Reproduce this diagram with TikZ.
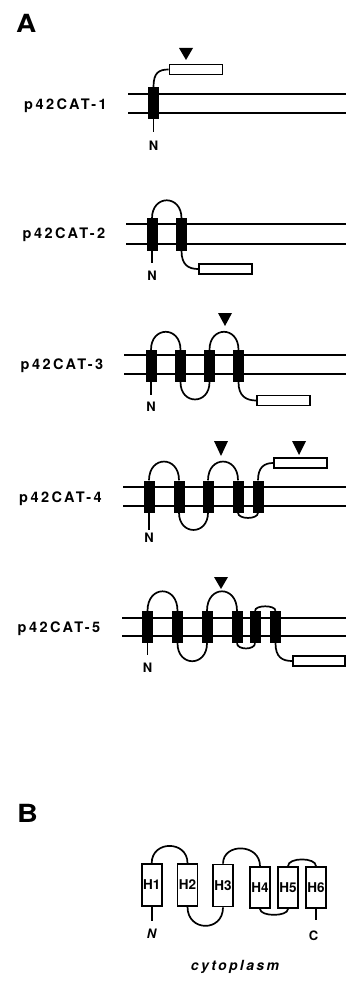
\documentclass[tikz,border=0pt]{standalone}
\usepackage{fontspec}
\setmainfont{TeX Gyre Heros}
\newfontfamily\spacedfont{TeX Gyre Heros}[LetterSpace=17]

\tikzset{
  membrane/.style={line width=1.8pt},
  tm/.style={rectangle, fill=black, minimum width=11pt, minimum height=32pt, inner sep=0pt},
  tag/.style={rectangle, draw, fill=white, line width=1.6pt, minimum width=53pt, minimum height=10pt, inner sep=0pt},
  chain/.style={line width=1.7pt},
  helix/.style={rectangle, draw, fill=white, line width=1.7pt, minimum width=20pt, minimum height=42pt, inner sep=0pt, font=\fontsize{13.5}{15}\selectfont\bfseries},
  construct/.style={anchor=base west, inner sep=0pt, font=\spacedfont\fontsize{14.5}{16}\selectfont\bfseries},
  term/.style={inner sep=0pt, font=\fontsize{13}{15}\selectfont\bfseries},
  panel/.style={anchor=base west, inner sep=0pt, font=\fontsize{25}{30}\selectfont\bfseries},
}
% downward-pointing cleavage marker: centre x, top y, bottom y
\newcommand\cutmark[3]{\fill (#1-7,#2) -- (#1+7,#2) -- (#1,#3) -- cycle;}

\begin{document}
\begin{tikzpicture}[x=1pt,y=-1pt]
\fill[white] (0,0) rectangle (346,984);
\useasboundingbox (0,0) rectangle (346,984);

\node[panel] (labA) at (16,33) {\scalebox{1.12}[1]{A}};

% ---------------- p42CAT-1
\draw[membrane] (128,94) -- (346,94) (128,113) -- (346,113);
\node[construct] (l1) at (24,110) {p42CAT-1};
\node[tm] (a1) at (153.5,103) {};
\node[tag] (t1) at (196,69.5) {};
\cutmark{186}{48}{60}
\draw[chain] (a1.north) .. controls +(0,-14) and +(-10,0) .. (t1.west);
\coordinate (n1e) at (153.5,132);
\draw[chain] (a1.south) -- (n1e);
\node[term] (n1) at (153.5,146) {N};

% ---------------- p42CAT-2
\draw[membrane] (126,224) -- (346,224) (126,244) -- (346,244);
\node[construct] (l2) at (22.5,239) {p42CAT-2};
\node[tm] (b1) at (152,234.5) {};
\node[tm] (b2) at (181.5,234.5) {};
\node[tag] (t2) at (225.5,269) {};
\draw[chain] (b1.north) .. controls +(0,-24) and +(0,-24) .. (b2.north);
\draw[chain] (b2.south) .. controls +(0,14) and +(-10,0) .. (t2.west);
\coordinate (n2e) at (152,263);
\draw[chain] (b1.south) -- (n2e);
\node[term] (n2) at (152,276) {N};

% ---------------- p42CAT-3
\draw[membrane] (124,355) -- (346,355) (124,374) -- (346,374);
\node[construct] (l3) at (20.5,369) {p42CAT-3};
\node[tm] (c1) at (151,366) {};
\node[tm] (c2) at (180.5,366) {};
\node[tm] (c3) at (209.5,366) {};
\node[tm] (c4) at (238.5,366) {};
\node[tag] (t3) at (283.5,400.5) {};
\cutmark{225}{313}{326}
\draw[chain] (c1.north) .. controls +(0,-24) and +(0,-24) .. (c2.north);
\draw[chain] (c2.south) .. controls +(0,23) and +(0,23) .. (c3.south);
\draw[chain] (c3.north) .. controls +(0,-24) and +(0,-24) .. (c4.north);
\draw[chain] (c4.south) .. controls +(0,14) and +(-10,0) .. (t3.west);
\coordinate (n3e) at (151,395);
\draw[chain] (c1.south) -- (n3e);
\node[term] (n3) at (151,407) {N};

% ---------------- p42CAT-4
\draw[membrane] (123,487) -- (346,487) (123,506) -- (346,506);
\node[construct] (l4) at (19,502) {p42CAT-4};
\node[tm] (d1) at (149,496.5) {};
\node[tm] (d2) at (179,496.5) {};
\node[tm] (d3) at (208,496.5) {};
\node[tm] (d4) at (238,496.5) {};
\node[tm] (d5) at (258,496.5) {};
\node[tag] (t4) at (300.5,463) {};
\cutmark{221}{441}{456}
\cutmark{299}{441}{455}
\draw[chain] (d1.north) .. controls +(0,-25) and +(0,-25) .. (d2.north);
\draw[chain] (d2.south) .. controls +(0,23) and +(0,23) .. (d3.south);
\draw[chain] (d3.north) .. controls +(0,-25) and +(0,-25) .. (d4.north);
\draw[chain] (d4.south) .. controls +(0,7) and +(0,7) .. (d5.south);
\draw[chain] (d5.north) .. controls +(0,-13) and +(-9,0) .. (t4.west);
\coordinate (n4e) at (149,530);
\draw[chain] (d1.south) -- (n4e);
\node[term] (n4) at (149,538) {N};

% ---------------- p42CAT-5
\draw[membrane] (122,618) -- (346,618) (122,636) -- (346,636);
\node[construct] (l5) at (17.5,632) {p42CAT-5};
\node[tm] (e1) at (147.5,627) {};
\node[tm] (e2) at (177.5,627) {};
\node[tm] (e3) at (207,627) {};
\node[tm] (e4) at (237,627) {};
\node[tm] (e5) at (255,627) {};
\node[tm] (e6) at (275.5,627) {};
\node[tag, minimum width=52pt] (t5) at (319,661) {};
\cutmark{221}{577}{589}
\draw[chain] (e1.north) .. controls +(0,-26) and +(0,-26) .. (e2.north);
\draw[chain] (e2.south) .. controls +(0,24) and +(0,24) .. (e3.south);
\draw[chain] (e3.north) .. controls +(0,-26) and +(0,-26) .. (e4.north);
\draw[chain] (e4.south) .. controls +(0,7) and +(0,7) .. (e5.south);
\draw[chain] (e5.north) .. controls +(0,-6) and +(0,-6) .. (e6.north);
\draw[chain] (e6.south) .. controls +(0,14) and +(-10,0) .. (t5.west);
\coordinate (n5e) at (147.5,655);
\draw[chain] (e1.south) -- (n5e);
\node[term] (n5) at (147.5,668) {N};

% ---------------- B: helix topology
\node[panel] (labB) at (17,822) {\scalebox{1.15}[1]{B}};
\node[helix] (h1) at (151.7,885) {H1};
\node[helix] (h2) at (187.5,885) {H2};
\node[helix] (h3) at (223,885.5) {H3};
\node[helix, minimum height=41pt] (h4) at (260,887.5) {H4};
\node[helix, minimum height=41pt] (h5) at (288,887.5) {H5};
\node[helix, minimum height=41pt] (h6) at (316,887.5) {H6};
\draw[chain] (h1.north) .. controls +(0,-23) and +(0,-23) .. (h2.north);
\draw[chain] (h2.south) .. controls +(0,25) and +(0,25) .. (h3.south);
\draw[chain] (h3.north) .. controls +(0,-21) and +(0,-23) .. (h4.north);
\draw[chain] (h4.south) .. controls +(0,8) and +(0,8) .. (h5.south);
\draw[chain] (h5.north) .. controls +(0,-9) and +(0,-9) .. (h6.north);
\coordinate (nBe) at (151.7,921);
\coordinate (cBe) at (316,920);
\draw[chain] (h1.south) -- (nBe);
\draw[chain] (h6.south) -- (cBe);
\node[term, font=\fontsize{13}{15}\selectfont\bfseries\itshape] (nB) at (151.5,934) {N};
\node[term] (cB) at (313.5,936) {C};
\node[inner sep=0pt, anchor=base, font=\spacedfont\fontsize{14}{16}\selectfont\bfseries\itshape] (cyto) at (235,970) {cytoplasm};
\end{tikzpicture}
\end{document}
